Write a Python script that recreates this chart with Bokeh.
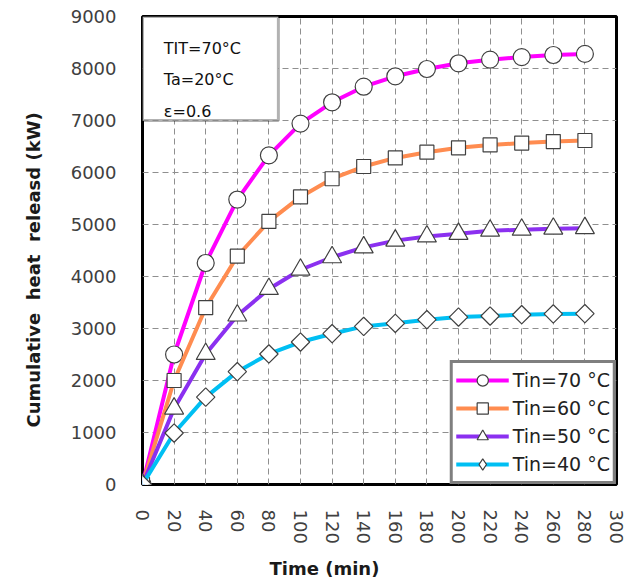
from bokeh.plotting import figure
from bokeh.models import Range1d, FixedTicker, BoxAnnotation, Label, Title, Legend
from bokeh.embed import file_html
from bokeh.resources import INLINE

time_min = [0, 20, 40, 60, 80, 100, 120, 140, 160, 180, 200, 220, 240, 260, 280]
tin70 = [0, 2500, 4260, 5480, 6330, 6940, 7350, 7650, 7850, 7990, 8100, 8170, 8220, 8260, 8280]
tin60 = [0, 2000, 3400, 4390, 5060, 5530, 5880, 6115, 6280, 6390, 6475, 6530, 6565, 6595, 6615]
tin50 = [0, 1460, 2510, 3250, 3760, 4130, 4370, 4560, 4690, 4770, 4820, 4880, 4900, 4920, 4930]
tin40 = [0, 990, 1680, 2170, 2510, 2740, 2900, 3040, 3100, 3170, 3220, 3240, 3265, 3280, 3285]

# (label, values, colour, marker, size, angle, legend marker)
series = [
    ("Tin=70 °C", tin70, "#FF00FF", "circle", 17, 0.0, "circle"),
    ("Tin=60 °C", tin60, "#FF8C50", "square", 14, 0.0, "square"),
    ("Tin=50 °C", tin50, "#8B30F0", "triangle", 19, 0.0, "triangle"),
    ("Tin=40 °C", tin40, "#00BFF3", "square", 13, 0.7854, "diamond"),
]
x_ticks = list(range(0, 301, 20))
y_ticks = list(range(0, 9001, 1000))
info_lines = ["TIT=70°C", "Ta=20°C", "ε=0.6"]
x_title = "Time (min)"
y_title = "Cumulative\u00a0\u00a0heat\u00a0\u00a0releasd (kW)"

FONT = "DejaVu Sans"

p = figure(width=637, height=588, output_backend="svg", toolbar_location=None,
           x_range=Range1d(0, 300), y_range=Range1d(0, 9000),
           min_border_left=142, min_border_right=21, min_border_top=16, min_border_bottom=104)
p.outline_line_color = "black"
p.outline_line_width = 3
p.background_fill_color = "white"

for ax in (p.xaxis[0], p.yaxis[0]):
    ax.axis_line_color = None
    ax.major_tick_line_color = None
    ax.minor_tick_line_color = None
    ax.major_label_text_font = FONT
    ax.major_label_text_font_size = "18px"
    ax.major_label_text_color = "#404040"
    ax.major_label_standoff = 20

p.xaxis[0].ticker = FixedTicker(ticks=x_ticks)
p.yaxis[0].ticker = FixedTicker(ticks=y_ticks)
p.xaxis[0].major_label_orientation = "vertical"
p.xaxis[0].major_label_standoff = 19

p.xgrid.ticker = FixedTicker(ticks=x_ticks)
p.ygrid.ticker = FixedTicker(ticks=y_ticks)
for g in (p.xgrid[0], p.ygrid[0]):
    g.grid_line_color = "#8f8f8f"
    g.grid_line_dash = "6 4"
    g.grid_line_width = 1

legend_items = []
for name, vals, color, marker, msize, mangle, lmarker in series:
    r1 = p.line(time_min, vals, line_color=color, line_width=4)
    r2 = p.scatter(time_min, vals, marker=marker, size=msize, angle=mangle,
                   fill_color="white", line_color="#404040", line_width=1.2)
    if lmarker != marker:
        r3 = p.scatter(time_min, vals, marker=lmarker, size=msize,
                       fill_color="white", line_color="#404040", line_width=1.2, visible=False)
        legend_items.append((name, [r1, r3]))
    else:
        legend_items.append((name, [r1, r2]))

legend = Legend(items=legend_items, location="bottom_right",
                border_line_color="black", border_line_width=3,
                background_fill_color="white", background_fill_alpha=1,
                label_text_font=FONT, label_text_font_size="19px", label_text_color="#222222",
                glyph_width=53, glyph_height=28, label_height=28, spacing=0, padding=3,
                label_standoff=4, margin=0)
p.add_layout(legend, "center")

box = BoxAnnotation(left=0, right=86, bottom=7000, top=9000,
                    fill_color="white", fill_alpha=1, line_color="black", line_width=3)
p.add_layout(box)
for txt, yv in zip(info_lines, [8385, 7790, 7175]):
    p.add_layout(Label(x=13.5, y=yv, text=txt, text_font=FONT, text_font_size="16px",
                       text_color="#111111", text_baseline="alphabetic"))

p.add_layout(Title(text=x_title, align="left", offset=127, text_font=FONT,
                   text_font_size="18px", text_font_style="bold", text_color="#1a1a1a",
                   standoff=18), "below")
p.add_layout(Title(text=y_title, align="left", offset=57, vertical_align="top",
                   text_font=FONT, text_font_size="18px", text_font_style="bold",
                   text_color="#1a1a1a", standoff=44), "left")

open("out.html", "w").write(file_html(p, INLINE))
